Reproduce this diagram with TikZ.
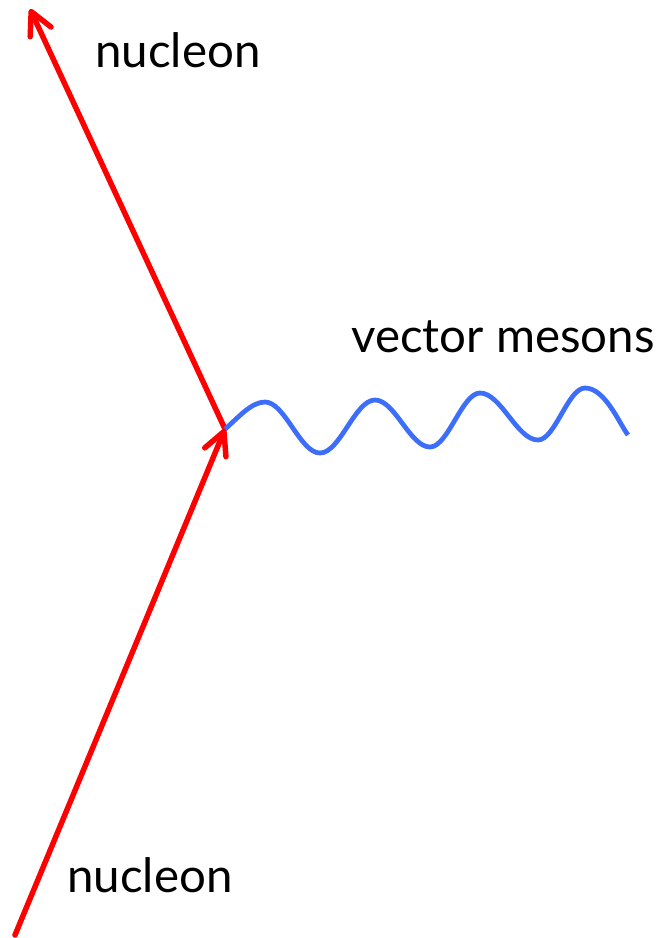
\documentclass[tikz,border=0pt]{standalone}
\usepackage{fontspec}
\setmainfont{Lato}
\usepackage{xcolor}
\definecolor{nucred}{RGB}{255,0,0}
\definecolor{mesblue}{RGB}{60,110,250}
\usetikzlibrary{arrows.meta}

\begin{document}
\begin{tikzpicture}[x=0.02cm, y=-0.02cm,
  nucleon/.style={draw=nucred, line width=3.1pt, line cap=round, -{Straight Barb[length=0.45cm, width=0.46cm, round]}},
  meson/.style={draw=mesblue, line width=2.7pt},
  lbl/.style={anchor=base west, inner sep=0pt, font=\fontsize{27}{32}\selectfont}]
  \useasboundingbox (0,0) rectangle (672,938);

  %% Vertex and line ends
  \coordinate (vertex) at (225,429);
  \coordinate (nucin) at (15,935);
  \coordinate (nucout) at (30,9);
  \coordinate (mesend) at (628,435);

  %% Nucleon lines
  \draw[nucleon] (nucin) -- (vertex);
  \draw[nucleon] (vertex) -- (nucout);

  %% Vector meson wave
  \draw[meson] (vertex) .. controls (238,418) and (251,402) .. (265,402)
    .. controls (285,402) and (300,453) .. (320,453)
    .. controls (340,453) and (355,400) .. (375,400)
    .. controls (395,400) and (410,447) .. (430,447)
    .. controls (448,447) and (462,393) .. (480,393)
    .. controls (501,393) and (517,440) .. (538,440)
    .. controls (555,440) and (568,388) .. (585,388)
    .. controls (605,388) and (619,423) .. (mesend);

  %% Labels
  \node[lbl] (nucoutlabel) at (95,67) {nucleon};
  \node[lbl] (nucinlabel) at (67,892) {nucleon};
  \node[lbl] (meslabel) at (351,352) {vector mesons};
\end{tikzpicture}
\end{document}
